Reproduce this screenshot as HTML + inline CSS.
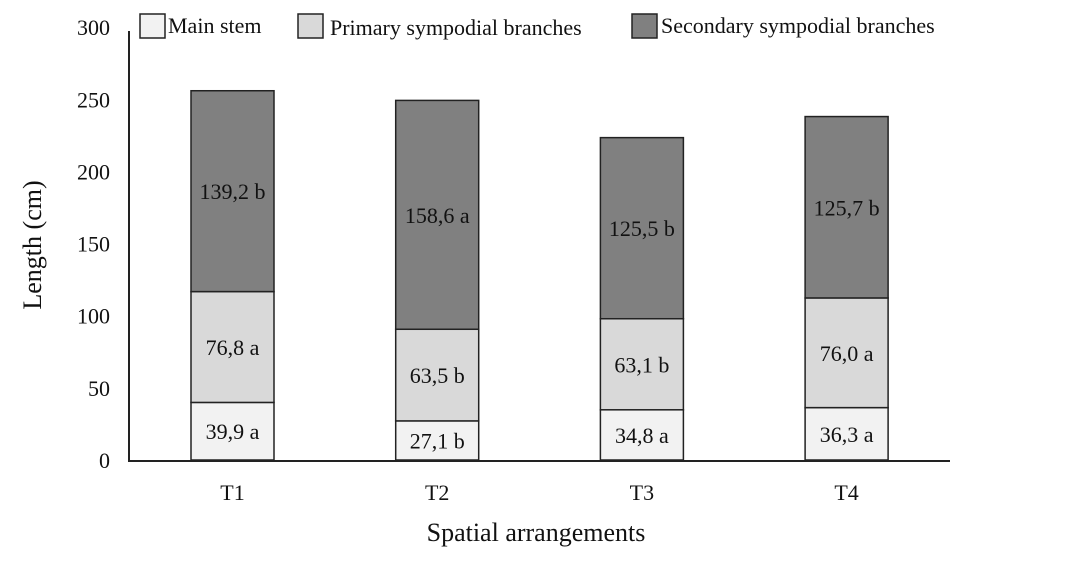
<!DOCTYPE html>
<html><head><meta charset="utf-8"><style>
html,body{margin:0;padding:0;background:#fff;}
svg text{font-family:"Liberation Serif",serif;fill:#111;}
</style></head><body>
<svg id="chart" width="1074" height="567" viewBox="0 0 1074 567" xmlns="http://www.w3.org/2000/svg">
<g id="legend">
<g><rect x="140" y="14" width="25" height="24" fill="#f2f2f2" stroke="#222" stroke-width="1.5"/><text x="168" y="33" font-size="22">Main stem</text></g>
<g><rect x="298" y="14" width="25" height="24" fill="#d9d9d9" stroke="#222" stroke-width="1.5"/><text x="330" y="35" font-size="22">Primary sympodial branches</text></g>
<g><rect x="632" y="14" width="25" height="24" fill="#808080" stroke="#222" stroke-width="1.5"/><text x="661" y="33" font-size="22">Secondary sympodial branches</text></g>
</g>
<g id="yticks"></g>
<g id="bars"></g>
<line x1="129" y1="31" x2="129" y2="461" stroke="#222" stroke-width="2"/>
<line x1="128" y1="461" x2="950" y2="461" stroke="#222" stroke-width="2"/>
<g id="xticks"></g>
<text x="0" y="0" font-size="26" text-anchor="middle" transform="translate(41,245) rotate(-90)">Length (cm)</text>
<text x="536" y="541" font-size="26" text-anchor="middle">Spatial arrangements</text>
</svg>
<script>
const categories = ["T1","T2","T3","T4"];
const mainStem = [39.9, 27.1, 34.8, 36.3];
const primary = [76.8, 63.5, 63.1, 76.0];
const secondary = [139.2, 158.6, 125.5, 125.7];
const mainLabels = ["39,9 a","27,1 b","34,8 a","36,3 a"];
const primaryLabels = ["76,8 a","63,5 b","63,1 b","76,0 a"];
const secondaryLabels = ["139,2 b","158,6 a","125,5 b","125,7 b"];
const yTicks = [0,50,100,150,200,250,300];

const NS = "http://www.w3.org/2000/svg";
function y(v){ return 460 - v*1.443; }
function xc(i){ return 232.5 + i*204.7; }
const barW = 83;
const bars = document.getElementById('bars');
const yt = document.getElementById('yticks');
const xt = document.getElementById('xticks');
function mk(tag, attrs, parent){ const e=document.createElementNS(NS,tag); for(const k in attrs) e.setAttribute(k,attrs[k]); parent.appendChild(e); return e; }

yTicks.forEach(t=>{
  const e = mk('text',{x:110,y:y(t)+8,'font-size':22,'text-anchor':'end'},yt);
  
  
  e.textContent = t;
});
const series = [
  {vals:mainStem, labels:mainLabels, fill:"#f2f2f2", name:"main-stem"},
  {vals:primary, labels:primaryLabels, fill:"#d9d9d9", name:"primary"},
  {vals:secondary, labels:secondaryLabels, fill:"#808080", name:"secondary"}
];
categories.forEach((c,i)=>{
  let base = 0;
  series.forEach(s=>{
    const v = s.vals[i];
    const r = mk('rect',{x:xc(i)-barW/2,y:y(base+v),width:barW,height:y(base)-y(base+v),fill:s.fill,stroke:"#222",'stroke-width':1.5},bars);
    
    
    const t = mk('text',{x:xc(i),y:y(base+v/2)+8,'font-size':22,'text-anchor':'middle'},bars);
    
    
    t.textContent = s.labels[i];
    base += v;
  });
  const xl = mk('text',{x:xc(i),y:500,'font-size':22,'text-anchor':'middle'},xt);
  
  
  xl.textContent = c;
});
</script>
</body></html>
